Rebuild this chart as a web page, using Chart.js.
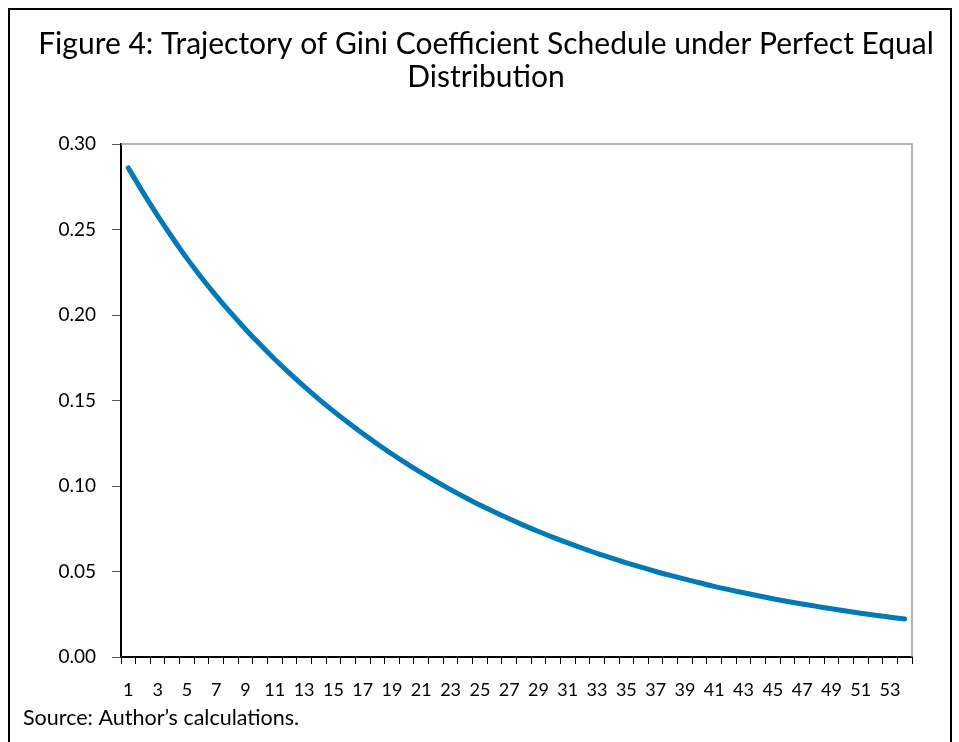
<!DOCTYPE html>
<html>
<head>
<meta charset="utf-8">
<script src="https://cdn.jsdelivr.net/npm/chart.js@4.4.0/dist/chart.umd.min.js"></script>
<style>
  html, body { margin: 0; padding: 0; background: #fff; overflow: hidden; }
  #wrap { position: relative; width: 959px; height: 742px; }
  #frame { position: absolute; left: 8px; top: 8px; width: 940px; height: 800px;
           border: 2px solid #000; border-bottom: none; pointer-events: none; }
  canvas { position: absolute; left: 0; top: 0; }
</style>
</head>
<body>
<div id="wrap">
  <canvas id="c" width="959" height="742"></canvas>
  <div id="frame"></div>
</div>
<script>
// ---- Data ----
const periods = Array.from({length: 54}, (_, i) => String(i + 1));
const giniValues = [
  0.2860, 0.2717, 0.2581, 0.2453, 0.2331, 0.2218, 0.2112, 0.2012, 0.1917, 0.1827,
  0.1741, 0.1660, 0.1582, 0.1508, 0.1438, 0.1371, 0.1307, 0.1246, 0.1187, 0.1131,
  0.1078, 0.1027, 0.0979, 0.0933, 0.0889, 0.0848, 0.0808, 0.0770, 0.0734, 0.0700,
  0.0667, 0.0636, 0.0606, 0.0578, 0.0551, 0.0525, 0.0500, 0.0477, 0.0455, 0.0434,
  0.0413, 0.0394, 0.0376, 0.0358, 0.0341, 0.0325, 0.0310, 0.0296, 0.0282, 0.0269,
  0.0256, 0.0244, 0.0233, 0.0222
];
const yTicks = [0.00, 0.05, 0.10, 0.15, 0.20, 0.25, 0.30];
const titleLines = ['Figure 4: Trajectory of Gini Coefficient Schedule under Perfect Equal', 'Distribution'];
const sourceText = 'Source: Author\u2019s calculations.';

const FONT = 'Lato, "Open Sans", sans-serif';

const extrasPlugin = {
  id: 'extras',
  afterDraw(chart) {
    const {ctx, chartArea: a} = chart;
    ctx.save();
    // grey top and right plot borders
    ctx.strokeStyle = '#9a9a9a';
    ctx.lineWidth = 1.5;
    ctx.beginPath();
    ctx.moveTo(a.left, a.top);
    ctx.lineTo(a.right, a.top);
    ctx.lineTo(a.right, a.bottom);
    ctx.stroke();
    // title (two centred lines)
    ctx.fillStyle = '#000';
    ctx.font = '30px ' + FONT;
    ctx.textAlign = 'center';
    ctx.textBaseline = 'middle';
    ctx.fillText(titleLines[0], 486, 44);
    ctx.fillText(titleLines[1], 486, 77);
    // source note
    ctx.font = '21.5px ' + FONT;
    ctx.textAlign = 'left';
    ctx.textBaseline = 'alphabetic';
    ctx.fillText(sourceText, 23, 725);
    ctx.restore();
  }
};

new Chart(document.getElementById('c'), {
  type: 'line',
  data: {
    labels: periods,
    datasets: [{
      data: giniValues,
      borderColor: '#0079B8',
      borderWidth: 5,
      pointRadius: 0,
      cubicInterpolationMode: 'monotone',
      borderCapStyle: 'round',
      borderJoinStyle: 'round',
      fill: false
    }]
  },
  options: {
    responsive: false,
    animation: false,
    devicePixelRatio: 1,
    layout: { padding: { left: 0, right: 47, top: 144, bottom: 0 } },
    plugins: {
      legend: { display: false },
      tooltip: { enabled: false },
      title: { display: false }
    },
    scales: {
      x: {
        type: 'category',
        offset: true,
        grid: { display: true, offset: true, drawOnChartArea: false, drawTicks: true,
                tickLength: 7, color: '#000', lineWidth: 1 },
        border: { display: true, color: '#000', width: 2 },
        ticks: {
          autoSkip: false,
          maxRotation: 0,
          minRotation: 0,
          padding: 15,
          color: '#000',
          font: { family: FONT, size: 18 },
          callback: function(v, i) { return i % 2 === 0 ? this.getLabelForValue(v) : ''; }
        },
        afterFit(scale) { scale.height = 85; }
      },
      y: {
        min: 0,
        max: 0.30,
        afterBuildTicks(scale) { scale.ticks = yTicks.map(v => ({value: v})); },
        grid: { display: true, drawOnChartArea: false, drawTicks: true,
                tickLength: 9, color: '#555', lineWidth: 1 },
        border: { display: true, color: '#000', width: 2 },
        ticks: {
          padding: 16,
          color: '#000',
          font: { family: FONT, size: 19 },
          callback: v => Number(v).toFixed(2)
        },
        afterFit(scale) { scale.width = 121; }
      }
    }
  },
  plugins: [extrasPlugin]
});
</script>
</body>
</html>
